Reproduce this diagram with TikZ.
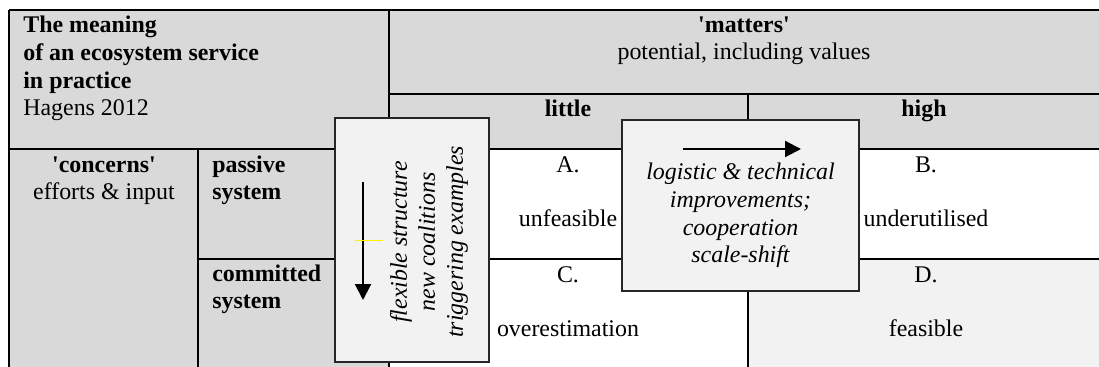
\documentclass[tikz,border=0pt]{standalone}
\usepackage{fontspec}
\setmainfont{Liberation Serif}
\usetikzlibrary{arrows.meta}
\definecolor{hdrgray}{HTML}{D9D9D9}
\definecolor{boxgray}{HTML}{F2F2F2}

\begin{document}
\begin{tikzpicture}[x=0.02cm, y=-0.02cm,
    every node/.style={inner sep=0pt, font=\fontsize{13.6}{15.9}\selectfont},
    rule/.style={line width=1.1pt},
    panel/.style={fill=boxgray, draw=black!85, line width=1pt},
    flow/.style={line width=1.2pt, -{Triangle[length=9pt, width=9pt]}},
    hd/.style={font=\fontsize{13.6}{15.9}\selectfont\bfseries}]
      \useasboundingbox (0,0) rectangle (1099,367);
      % cells
      \fill[hdrgray] (9,10) rectangle (1099,149);
      \fill[hdrgray] (9,149) rectangle (389,367);
      \fill[white] (389,149) rectangle (1099,367);
      \fill[boxgray] (748,259) rectangle (1099,367);
      \draw[rule] (9,10) -- (1099,10) (9,10) -- (9,367) (389,10) -- (389,367);
      \draw[rule] (389,94) -- (1099,94) (748,94) -- (748,367);
      \draw[rule] (9,149) -- (1099,149) (198,149) -- (198,367) (198,259) -- (1099,259);
      % headings (base = last line)
      \node[anchor=base west, align=left] (title) at (23,116) {\textbf{The meaning}\\ \textbf{of an ecosystem service}\\ \textbf{in practice}\\ Hagens 2012};
      \node[anchor=base, align=center] (mat) at (744,60) {\textbf{\textquotesingle matters\textquotesingle}\\ potential, including values};
      \node[hd, anchor=base] (lit) at (568,117) {little};
      \node[hd, anchor=base] (hig) at (924,117) {high};
      \node[anchor=base, align=center] (con) at (104,200) {\textbf{\textquotesingle concerns\textquotesingle}\\ efforts \& input};
      \node[hd, anchor=base west, align=left] (pas) at (212,200) {passive\\ system};
      \node[hd, anchor=base west, align=left] (com) at (212,309) {committed\\ system};
      % quadrants
      \node[anchor=base] (qa) at (568,173) {A.};
      \node[anchor=base] (ua) at (568,227) {unfeasible};
      \node[anchor=base] (qb) at (926,173) {B.};
      \node[anchor=base] (ub) at (926,227) {underutilised};
      \node[anchor=base] (qc) at (568,283) {C.};
      \node[anchor=base] (uc) at (568,337) {overestimation};
      \node[anchor=base] (qd) at (926,283) {D.};
      \node[anchor=base] (ud) at (926,337) {feasible};
      % shift panels
      \draw[panel] (335,118) rectangle (489,362);
      \coordinate (fa) at (363,182); \coordinate (fb) at (363,300);
      \draw[flow] (fa) -- (fb);
      \draw[yellow, line width=0.5pt] (355,240) -- (383,240);
      \node[rotate=90, align=center, font=\fontsize{13.6}{15.9}\selectfont\itshape] (flex) at (429,242) {flexible structure\\ new coalitions\\ triggering examples};
      \draw[panel] (622,120) rectangle (859,291);
      \coordinate (la) at (683,149); \coordinate (lb) at (801,149);
      \draw[flow] (la) -- (lb);
      \node[anchor=base, align=center, font=\fontsize{13.6}{15.9}\selectfont\itshape] (logi) at (740.5,263) {logistic \& technical\\ improvements;\\ cooperation\\ scale-shift};
    \end{tikzpicture}
\end{document}
